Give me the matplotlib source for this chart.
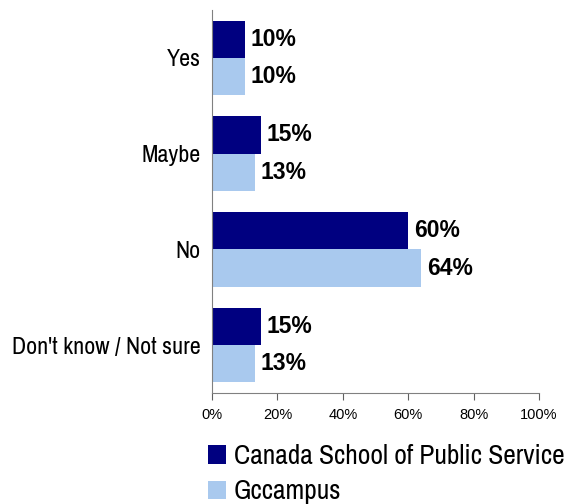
import numpy as np
from matplotlib import pyplot as plt

categories = ["Yes", "Maybe", "No", "Don't know / Not sure"]
csps = [10, 15, 60, 15]
gccampus = [10, 13, 64, 13]
series_names = ["Canada School of Public Service", "Gccampus"]
xticks = [0, 20, 40, 60, 80, 100]

narrow = ["Archivo Narrow", "DejaVu Sans"]
plain = ["Liberation Sans", "DejaVu Sans"]

fig = plt.figure(figsize=(5.66, 5.04), dpi=100)
ax = fig.add_axes([212 / 566, 111 / 504, 327 / 566, 383 / 504])

y = np.arange(len(categories))[::-1]
h = 0.39
b1 = ax.barh(y + h / 2, csps, height=h, color="#000080", label=series_names[0])
b2 = ax.barh(y - h / 2, gccampus, height=h, color="#A9C9EE", label=series_names[1])

for bars, vals in [(b1, csps), (b2, gccampus)]:
    for bar, v in zip(bars, vals):
        ax.text(v + 1.8, bar.get_y() + bar.get_height() / 2, f"{v}%",
                va="center", ha="left", fontsize=16.5, fontweight="bold",
                family=plain)

ax.set_xlim(0, 100)
ax.set_ylim(-0.5, 3.5)
ax.set_yticks(y)
ax.set_yticklabels(categories, family=narrow, fontsize=17.3)
ax.set_xticks(xticks)
ax.set_xticklabels([f"{t}%" for t in xticks], family=plain, fontsize=10.5)
ax.tick_params(axis="y", length=0, pad=8)
ax.tick_params(axis="x", length=5, color="#606060", pad=6)
for s in ["top", "right"]:
    ax.spines[s].set_visible(False)
for s in ["left", "bottom"]:
    ax.spines[s].set_color("#808080")

leg = fig.legend(loc="upper left", bbox_to_anchor=(208 / 566, 60 / 504),
                 frameon=False, prop={"family": narrow, "size": 19.8},
                 handlelength=0.66, handleheight=0.66, handletextpad=0.27,
                 labelspacing=0.38, borderpad=0, borderaxespad=0)

fig.savefig("out.png", dpi=100)
